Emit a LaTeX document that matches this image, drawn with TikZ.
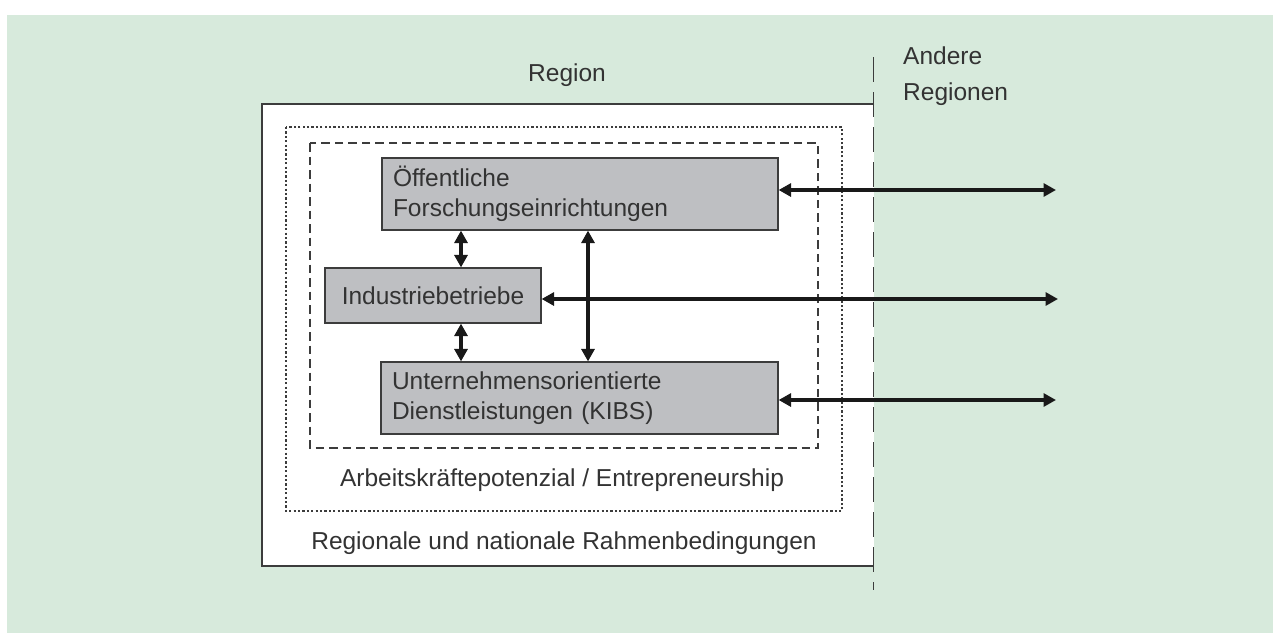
\documentclass[tikz,border=0pt]{standalone}
\usepackage{fontspec}
\setmainfont{Liberation Sans}
\usetikzlibrary{arrows.meta,positioning,calc}
\definecolor{bggreen}{HTML}{D7EADC}
\definecolor{boxgray}{HTML}{BEBFC2}
\definecolor{linegray}{HTML}{3C3C3C}
\definecolor{txt}{HTML}{333333}
\tikzset{
  actor/.style={draw=linegray, line width=1.2pt, fill=boxgray, text=txt, inner sep=0pt},
  lbl/.style={text=txt, inner sep=0pt, font=\fontsize{24.5}{30}\selectfont},
  link/.style={draw=black!90, line width=4.2pt, {Triangle[length=12.5pt,width=13pt]}-{Triangle[length=12.5pt,width=13pt]}},
  frame/.style={draw=linegray, line width=1.2pt}
}
\begin{document}
\begin{tikzpicture}[x=1pt,y=-1pt]
\useasboundingbox (0,0) rectangle (1273,633);
\fill[bggreen] (7,15) rectangle (1273,633);
% region box
\fill[white] (262,104) rectangle (874,566);
\draw[frame] (874,104) -- (262,104) -- (262,566) -- (874,566);
\draw[draw=linegray, line width=1.2pt, dash pattern=on 2.2pt off 2.2pt] (286,127) rectangle (842,511);
\draw[draw=linegray, line width=1.2pt, dash pattern=on 8.5pt off 5pt] (310,143) rectangle (818,448);
\draw[draw=linegray, line width=1.5pt, dash pattern=on 25pt off 10pt] (873.5,57) -- (873.5,590);
% labels
\node[lbl] (region) at (567,75) {Region};
\node[lbl, anchor=west, align=left, font=\fontsize{24.5}{36}\selectfont] (andere) at (903,76) {Andere\\Regionen};
\node[lbl] (arbeit) at (562,480) {Arbeitskräftepotenzial / Entrepreneurship};
\node[lbl] (rahmen) at (564,543) {Regionale und nationale Rahmenbedingungen};
% actors
\node[actor, minimum width=396pt, minimum height=72pt, text width=374pt, align=left, font=\fontsize{24.5}{30}\selectfont] (b1) at (580,194) {Öffentliche\\Forschungseinrichtungen};
\node[actor, minimum width=216pt, minimum height=55pt, font=\fontsize{24.5}{30}\selectfont] (b2) at (433,295.5) {Industriebetriebe};
\node[actor, minimum width=397pt, minimum height=72pt, text width=375pt, align=left, font=\fontsize{24.5}{30}\selectfont] (b3) at (579.5,398) {Unternehmensorientierte\\Dienstleistungen (KIBS)};
% connector ends
\coordinate (r1) at (1056,190);
\coordinate (r2) at (1058,299);
\coordinate (r3) at (1056,400);
\coordinate (v1) at (461,0);
\coordinate (v2) at (588,0);
% connectors
\draw[link] (b1.east |- r1) -- (r1);
\draw[link] (b2.east |- r2) -- (r2);
\draw[link] (b3.east |- r3) -- (r3);
\draw[link] (v1 |- b1.south) -- (v1 |- b2.north);
\draw[link] (v1 |- b2.south) -- (v1 |- b3.north);
\draw[link] (v2 |- b1.south) -- (v2 |- b3.north);
\end{tikzpicture}
\end{document}
